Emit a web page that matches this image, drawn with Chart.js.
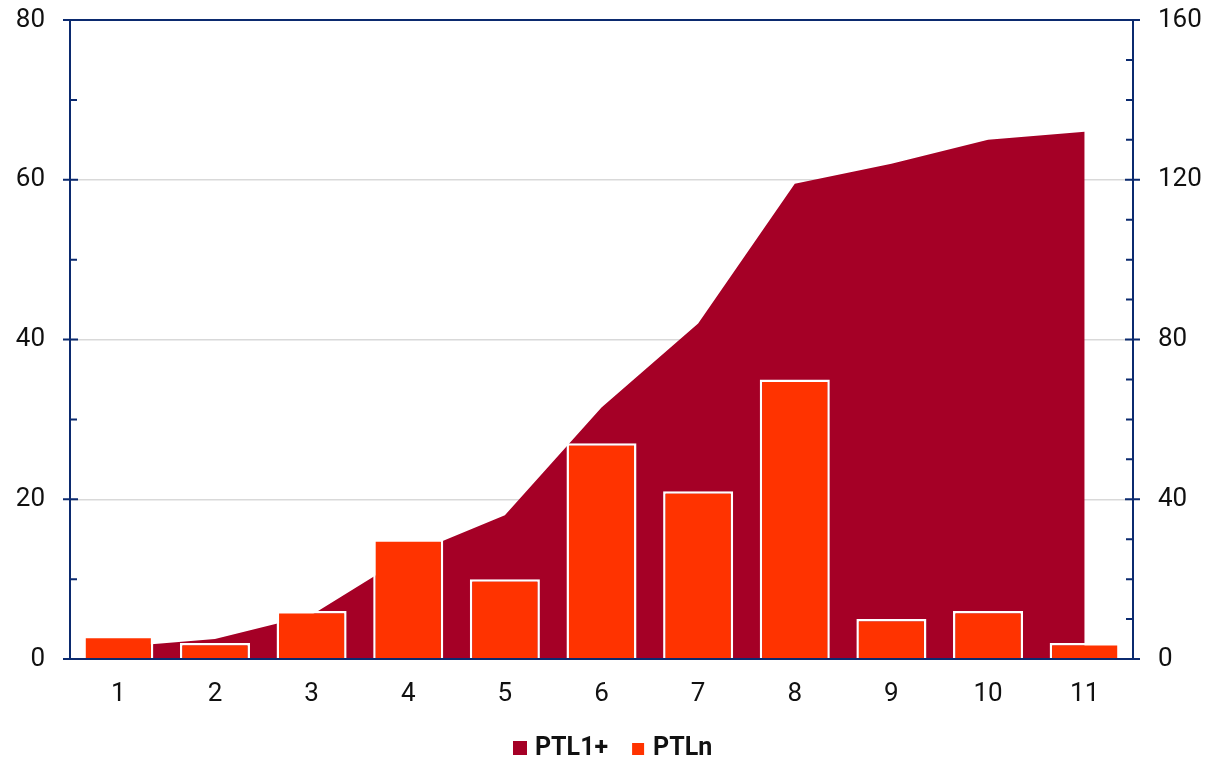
<!DOCTYPE html>
<html>
<head>
<meta charset="utf-8">
<script src="https://cdn.jsdelivr.net/npm/chart.js@4"></script>
<style>
  html, body { margin: 0; padding: 0; background: #fff; }
  #wrap { width: 1211px; height: 759px; }
</style>
</head>
<body>
<div id="wrap"><canvas id="chart"></canvas></div>
<script>
const categories = ['1', '2', '3', '4', '5', '6', '7', '8', '9', '10', '11'];
const ptlnValues = [2.9, 2, 6, 15, 10, 27, 21, 35, 5, 6, 2];          // bars, left axis
const ptl1Values = [3, 5, 11, 26, 36, 63, 84, 119, 124, 130, 132];     // area, right axis
const leftTicks = [0, 20, 40, 60, 80];
const rightTicks = [0, 40, 80, 120, 160];

const navy = '#0b2a6f';
const areaColor = '#a50026';
const barColor = '#ff3300';

// axis lines and tick marks drawn by hand (majors cross the axis, minors inside)
const axisPlugin = {
  id: 'axisTicks',
  afterDraw(chart) {
    const ctx = chart.ctx;
    const { left, right, top, bottom } = chart.chartArea;
    const y = chart.scales.y;
    const y1 = chart.scales.y1;
    ctx.save();
    ctx.strokeStyle = navy;
    ctx.lineWidth = 2;
    ctx.beginPath();
    ctx.moveTo(left, top); ctx.lineTo(left, bottom);
    ctx.moveTo(right, top); ctx.lineTo(right, bottom);
    ctx.moveTo(left - 7, top); ctx.lineTo(right + 7, top);
    ctx.moveTo(left - 7, bottom); ctx.lineTo(right + 7, bottom);
    for (let v = 0; v <= 80; v += 10) {
      const py = y.getPixelForValue(v);
      if (v % 20 === 0) { ctx.moveTo(left - 7, py); ctx.lineTo(left + 8, py); }
      else { ctx.moveTo(left, py); ctx.lineTo(left + 7, py); }
    }
    for (let v = 0; v <= 160; v += 10) {
      const py = y1.getPixelForValue(v);
      if (v % 40 === 0) { ctx.moveTo(right - 8, py); ctx.lineTo(right + 7, py); }
      else { ctx.moveTo(right - 7, py); ctx.lineTo(right, py); }
    }
    ctx.stroke();
    ctx.restore();
  }
};

// legend drawn by hand so box sizes and gaps match
const legendPlugin = {
  id: 'bottomLegend',
  afterDraw(chart) {
    const ctx = chart.ctx;
    const ds = chart.data.datasets;
    const base = 755;
    ctx.save();
    ctx.font = 'bold 25px Roboto';
    ctx.textBaseline = 'alphabetic';
    ctx.fillStyle = ds[0].backgroundColor;
    ctx.fillRect(513, base - 14, 14, 14);
    ctx.fillStyle = '#111';
    ctx.fillText(ds[0].label, 535, base);
    let x = 535 + ctx.measureText(ds[0].label).width + 24;
    ctx.fillStyle = ds[1].backgroundColor;
    ctx.fillRect(x, base - 12, 12, 12);
    ctx.fillStyle = '#111';
    ctx.fillText(ds[1].label, x + 21, base);
    ctx.restore();
  }
};

new Chart(document.getElementById('chart'), {
  type: 'bar',
  data: {
    labels: categories,
    datasets: [
      {
        type: 'line',
        label: 'PTL1+',
        data: ptl1Values,
        yAxisID: 'y1',
        fill: 'origin',
        backgroundColor: areaColor,
        borderColor: areaColor,
        borderWidth: 0,
        pointRadius: 0,
        tension: 0,
        order: 1
      },
      {
        type: 'bar',
        label: 'PTLn',
        data: ptlnValues,
        yAxisID: 'y',
        backgroundColor: barColor,
        borderColor: '#ffffff',
        borderWidth: 2.5,
        categoryPercentage: 1,
        barPercentage: 0.725,
        order: 0
      }
    ]
  },
  options: {
    responsive: true,
    maintainAspectRatio: false,
    animation: false,
    layout: { padding: { top: 20, left: 0, right: 0, bottom: 55 } },
    scales: {
      x: {
        offset: true,
        afterFit: s => { s.height = 45; s.paddingLeft = 0; s.paddingRight = 0; },
        grid: { display: false, drawTicks: false },
        border: { display: false },
        ticks: { color: '#111', font: { family: 'Roboto', size: 26 }, padding: 20, maxRotation: 0 }
      },
      y: {
        position: 'left',
        min: 0, max: 80,
        afterBuildTicks: s => { s.ticks = leftTicks.map(v => ({ value: v })); },
        afterFit: s => { s.width = 70; s.paddingTop = 0; s.paddingBottom = 0; },
        grid: {
          drawTicks: false,
          color: ctx => (ctx.tick && ctx.tick.value > 0 && ctx.tick.value < 80) ? '#d9d9d9' : 'rgba(0,0,0,0)',
          lineWidth: 1.5
        },
        border: { display: false },
        ticks: { color: '#111', font: { family: 'Roboto', size: 26 }, padding: 25 }
      },
      y1: {
        position: 'right',
        min: 0, max: 160,
        afterBuildTicks: s => { s.ticks = rightTicks.map(v => ({ value: v })); },
        afterFit: s => { s.width = 78; s.paddingTop = 0; s.paddingBottom = 0; },
        grid: { display: false, drawTicks: false },
        border: { display: false },
        ticks: { color: '#111', font: { family: 'Roboto', size: 26 }, padding: 25 }
      }
    },
    plugins: {
      legend: { display: false },
      tooltip: { enabled: false }
    }
  },
  plugins: [axisPlugin, legendPlugin]
});
</script>
</body>
</html>
